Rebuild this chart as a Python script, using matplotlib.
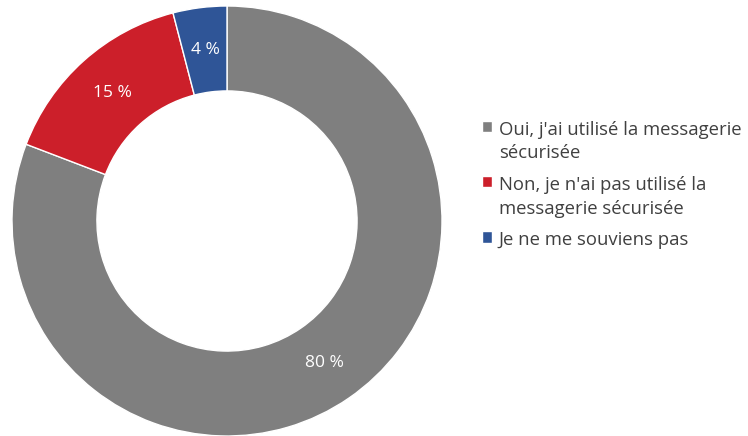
import matplotlib.pyplot as plt

labels = ["Oui, j'ai utilisé la messagerie\nsécurisée",
          "Non, je n'ai pas utilisé la\nmessagerie sécurisée",
          "Je ne me souviens pas"]
values = [80, 15, 4]
colors = ["#7f7f7f", "#cc1f2a", "#2f5597"]

plt.rcParams['font.family'] = ['Open Sans', 'DejaVu Sans']

fig = plt.figure(figsize=(7.48, 4.36), dpi=100)
ax = fig.add_axes([12 / 748, 0 / 436, 430 / 748, 430 / 436])

wedges, _, autotexts = ax.pie(
    values, colors=colors, startangle=90, counterclock=False,
    radius=1, autopct=lambda p: "", pctdistance=0.8,
    wedgeprops=dict(width=0.395, edgecolor="white", linewidth=1))

for t, v in zip(autotexts, values):
    t.set_text(f"{v} %")
    t.set_color("white")
    t.set_fontsize(12.5)

ax.set_xlim(-1, 1)
ax.set_ylim(-1, 1)
ax.set_aspect("equal")

leg = fig.legend(wedges, labels, loc="center left", bbox_to_anchor=(482 / 748, 0.575),
                 frameon=False, fontsize=13.3, handlelength=0.55, handleheight=0.55,
                 handletextpad=0.35, labelspacing=0.75, borderpad=0, borderaxespad=0,
                 labelcolor="#404040")
for t in leg.get_texts():
    t.set_linespacing(1.38)

# put each square marker next to the first line of its label
for col in leg._legend_handle_box.get_children():
    for row in col.get_children():
        row.align = "top"

fig.savefig("out.png", dpi=100)
